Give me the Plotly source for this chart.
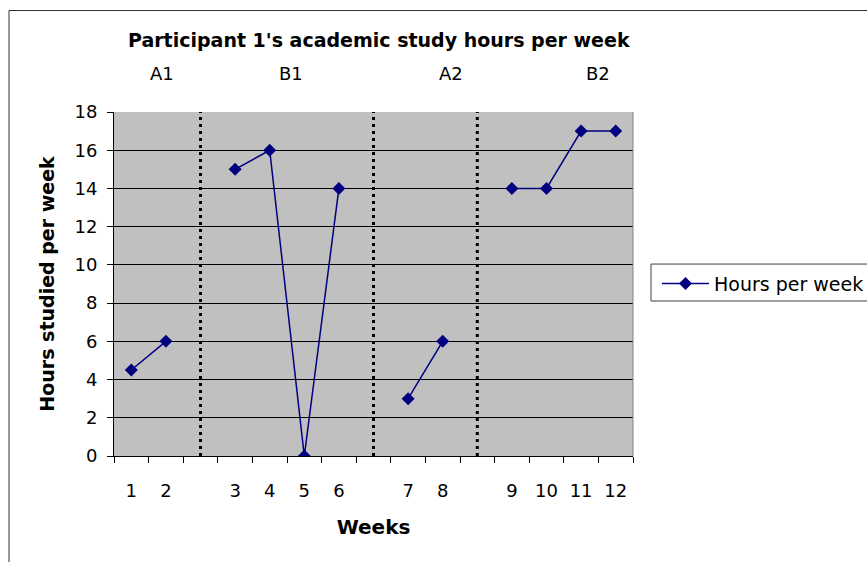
import plotly.graph_objects as go

# Weekly study hours for participant 1, grouped by A/B phase
weeks = [1, 2, 3, 4, 5, 6, 7, 8, 9, 10, 11, 12]
hours = [4.5, 6, 15, 16, 0, 14, 3, 6, 14, 14, 17, 17]
phase_names = ["A1", "B1", "A2", "B2"]
phase_lengths = [2, 4, 2, 4]
y_ticks = [0, 2, 4, 6, 8, 10, 12, 14, 16, 18]

# Lay the weeks out on a slot axis, leaving an empty slot between phases
xs, ys, tick_pos, tick_txt, gap_slots = [], [], [], [], []
slot, i = 1, 0
for p, n in enumerate(phase_lengths):
    for _ in range(n):
        xs.append(slot)
        ys.append(hours[i])
        tick_pos.append(slot)
        tick_txt.append(str(weeks[i]))
        slot += 1
        i += 1
    if p < len(phase_lengths) - 1:
        xs.append(slot)
        ys.append(None)
        gap_slots.append(slot)
        slot += 1
n_slots = slot - 1

FONT = "DejaVu Sans"
NAVY = "#000080"

fig = go.Figure()
fig.add_trace(go.Scatter(
    x=xs, y=ys, mode="lines+markers", name="Hours per week",
    connectgaps=False,
    line=dict(color=NAVY, width=1.5),
    marker=dict(symbol="diamond", size=10, color=NAVY),
))

shapes = []
# Dotted phase dividers
for g in gap_slots:
    shapes.append(dict(type="line", xref="x", yref="paper", x0=g, x1=g, y0=0, y1=1,
                       line=dict(color="black", width=3, dash="3px,4px")))
# Right edge of the plot area
shapes.append(dict(type="line", xref="paper", yref="paper", x0=1, x1=1, y0=0, y1=1,
                   line=dict(color="#808080", width=1)))
# Outer chart frame
shapes.append(dict(type="rect", xref="paper", yref="paper", x0=-0.2023, x1=2, y0=-1, y1=1.295,
                   line=dict(color="#303030", width=1), fillcolor="rgba(0,0,0,0)"))
# Legend frame, running off the right edge of the chart
shapes.append(dict(type="rect", xref="paper", yref="paper", x0=1.0347, x1=1.5, y0=0.4506, y1=0.558,
                   line=dict(color="#404040", width=1), fillcolor="white", layer="below"))

phase_x = [0.092, 0.3407, 0.649, 0.9326]
annotations = [
    dict(text=name, x=px, y=1.1125, xref="paper", yref="paper", showarrow=False,
         xanchor="center", yanchor="middle", font=dict(family=FONT, size=18, color="black"))
    for name, px in zip(phase_names, phase_x)
]
annotations.append(dict(text="<b>Participant 1's academic study hours per week</b>",
                        x=0.5106, y=1.21, xref="paper", yref="paper", showarrow=False,
                        xanchor="center", yanchor="middle",
                        font=dict(family=FONT, size=19, color="black")))

fig.update_layout(
    width=867, height=562,
    margin=dict(l=114, r=234, t=112, b=106, autoexpand=False),
    paper_bgcolor="white",
    plot_bgcolor="#C0C0C0",
    font=dict(family=FONT, size=18, color="black"),
    xaxis=dict(
        range=[0.5, n_slots + 0.5], tickmode="array", tickvals=tick_pos, ticktext=tick_txt,
        ticks="", showgrid=False, zeroline=False,
        showline=True, linecolor="black", linewidth=1,
        ticklabelstandoff=18,
        tickfont=dict(family=FONT, size=18),
        minor=dict(tick0=0.5, dtick=1, ticks="outside", ticklen=6, tickcolor="black",
                   tickwidth=1, showgrid=False),
        title=dict(text="<b>Weeks</b>", font=dict(family=FONT, size=20), standoff=20),
    ),
    yaxis=dict(
        range=[0, 18], tickmode="array", tickvals=y_ticks,
        ticks="outside", ticklen=6, tickcolor="black",
        showgrid=True, gridcolor="black", gridwidth=1, zeroline=False,
        showline=True, linecolor="black", linewidth=1,
        ticklabelstandoff=6,
        tickfont=dict(family=FONT, size=18),
        title=dict(text="<b>Hours studied per week</b>", font=dict(family=FONT, size=19), standoff=14),
    ),
    showlegend=True,
    legend=dict(x=1.0462, xanchor="left", y=0.556, yanchor="top",
                bgcolor="rgba(0,0,0,0)", borderwidth=0,
                font=dict(family=FONT, size=19), itemwidth=47),
    shapes=shapes,
    annotations=annotations,
)

fig.write_html("out.html")
